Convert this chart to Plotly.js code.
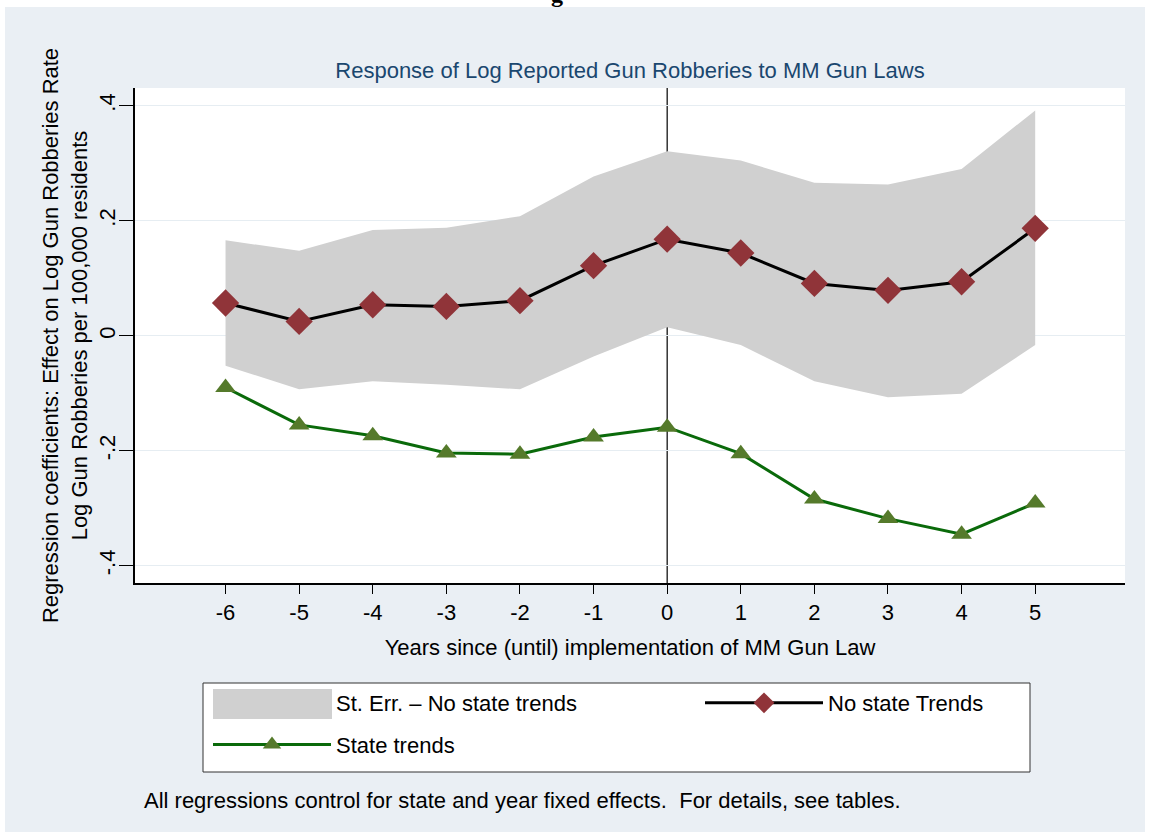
<!DOCTYPE html>
<html>
<head>
<meta charset="utf-8">
<script src="https://cdn.plot.ly/plotly-3.0.1.min.js"></script>
<style>html,body{margin:0;padding:0;background:#fff;}#chart{width:1151px;height:838px;}</style>
</head>
<body>
<div id="chart"></div>
<script>
// ---- data ----
const years = [-6, -5, -4, -3, -2, -1, 0, 1, 2, 3, 4, 5];
const xTickLabels = ['-6', '-5', '-4', '-3', '-2', '-1', '0', '1', '2', '3', '4', '5'];
const noStateTrends = [0.057, 0.025, 0.054, 0.051, 0.061, 0.122, 0.168, 0.144, 0.091, 0.079, 0.094, 0.187];
const seUpper = [0.166, 0.148, 0.184, 0.188, 0.208, 0.277, 0.321, 0.305, 0.266, 0.263, 0.290, 0.392];
const seLower = [-0.052, -0.093, -0.079, -0.085, -0.093, -0.036, 0.015, -0.016, -0.079, -0.107, -0.101, -0.016];
const stateTrends = [-0.090, -0.155, -0.174, -0.204, -0.206, -0.176, -0.159, -0.205, -0.284, -0.318, -0.345, -0.291];
const yTickVals = [-0.4, -0.2, 0, 0.2, 0.4];
const yTickLabels = ['-.4', '-.2', '0', '.2', '.4'];

const FONT = 'Liberation Sans, Arial, sans-serif';
const FS = 22;

const bandX = years.concat(years.slice().reverse());
const bandY = seUpper.concat(seLower.slice().reverse());

const traces = [
  {
    x: bandX, y: bandY, type: 'scatter', mode: 'lines', fill: 'toself',
    fillcolor: '#d0d0d0', line: {width: 0, color: '#d0d0d0'},
    name: 'St. Err. \u2013 No state trends', legend: 'legend', legendgroup: 'a',
    hoverinfo: 'skip'
  },
  {
    x: years, y: stateTrends, type: 'scatter', mode: 'lines+markers',
    line: {color: '#0a6a0a', width: 3},
    marker: {symbol: 'triangle-up', size: 18, color: '#557a2b', line: {width: 0}},
    name: 'State trends', legend: 'legend', legendgroup: 'b'
  },
  {
    x: years, y: noStateTrends, type: 'scatter', mode: 'lines+markers',
    line: {color: '#000000', width: 3},
    marker: {symbol: 'diamond', size: 21, color: '#903439', line: {width: 0}},
    name: 'No state Trends', legend: 'legend2'
  }
];

// plot area: left 135, right 1125, top 88, bottom 583
const L = 135, R = 1125, T = 88, B = 583;
const px = v => (v - L) / (R - L);
const py = v => (B - v) / (B - T);

const layout = {
  width: 1151, height: 838,
  margin: {l: L, r: 1151 - R, t: T, b: 838 - B, pad: 0},
  paper_bgcolor: '#ffffff',
  plot_bgcolor: 'rgba(0,0,0,0)',
  font: {family: FONT, size: FS, color: '#000'},
  showlegend: true,
  title: {
    text: 'Response of Log Reported Gun Robberies to MM Gun Laws',
    font: {family: FONT, size: FS, color: '#1a476f'},
    xref: 'paper', x: 0.5, xanchor: 'center',
    yref: 'container', y: 1 - 70 / 838, yanchor: 'middle'
  },
  xaxis: {
    range: [-7.23, 6.22], tickvals: years, ticktext: xTickLabels,
    ticks: 'outside', ticklen: 9, tickwidth: 1, tickcolor: '#000',
    showline: true, linecolor: '#000', linewidth: 1.5,
    showgrid: false, zeroline: false,
    tickfont: {family: FONT, size: FS, color: '#000'},
    title: {text: 'Years since (until) implementation of MM Gun Law', standoff: 15,
            font: {family: FONT, size: FS, color: '#000'}}
  },
  yaxis: {
    range: [-0.43, 0.431], tickvals: yTickVals, ticktext: yTickLabels, tickangle: -90,
    ticks: 'outside', ticklen: 14, tickwidth: 1, tickcolor: '#000', ticklabelstandoff: -5,
    showline: true, linecolor: '#000', linewidth: 1.5,
    showgrid: true, gridcolor: '#e6edf2', gridwidth: 1, zeroline: false,
    tickfont: {family: FONT, size: FS, color: '#000'},
    title: {text: 'Regression coefficients: Effect on Log Gun Robberies Rate<br>Log Gun Robberies per 100,000 residents',
            standoff: 2, font: {family: FONT, size: FS, color: '#000'}}
  },
  legend: {
    x: px(208), y: py(682), xanchor: 'left', yanchor: 'top',
    bgcolor: 'rgba(0,0,0,0)', borderwidth: 0,
    font: {family: FONT, size: FS, color: '#000'},
    traceorder: 'grouped', tracegroupgap: 10, itemwidth: 118
  },
  legend2: {
    x: px(700), y: py(682), xanchor: 'left', yanchor: 'top',
    bgcolor: 'rgba(0,0,0,0)', borderwidth: 0,
    font: {family: FONT, size: FS, color: '#000'},
    itemwidth: 118
  },
  shapes: [
    {type: 'rect', xref: 'paper', yref: 'paper', x0: px(5), x1: px(1145), y0: py(832), y1: py(7),
     fillcolor: '#eaeff4', line: {width: 0}, layer: 'below'},
    {type: 'rect', xref: 'paper', yref: 'paper', x0: 0, x1: 1, y0: 0, y1: 1,
     fillcolor: '#ffffff', line: {width: 0}, layer: 'below'},
    {type: 'line', xref: 'x', yref: 'paper', x0: 0, x1: 0, y0: 0, y1: 1,
     line: {color: '#000', width: 1.2}, layer: 'below'},
    {type: 'rect', xref: 'paper', yref: 'paper', x0: px(203), x1: px(1030), y0: py(772), y1: py(683),
     fillcolor: '#ffffff', line: {color: '#333', width: 1}, layer: 'below'},
    // backing patch that enlarges the band's legend key to the reference's block size
    {type: 'rect', xref: 'paper', yref: 'paper', x0: px(213), x1: px(332), y0: py(719), y1: py(689),
     fillcolor: '#d0d0d0', line: {width: 0}, layer: 'above'}
  ],
  annotations: [
    {text: 'All regressions control for state and year fixed effects.  For details, see tables.',
     xref: 'paper', yref: 'paper', x: px(142), y: py(800), xanchor: 'left', yanchor: 'middle',
     showarrow: false, font: {family: FONT, size: FS, color: '#000'}},
    {text: '<b>g</b>', xref: 'paper', yref: 'paper', x: px(557), y: py(-6), xanchor: 'center', yanchor: 'middle',
     showarrow: false, font: {family: 'Liberation Serif, serif', size: 24, color: '#000'}}
  ]
};

Plotly.newPlot('chart', traces, layout, {displayModeBar: false, responsive: false});
</script>
</body>
</html>
